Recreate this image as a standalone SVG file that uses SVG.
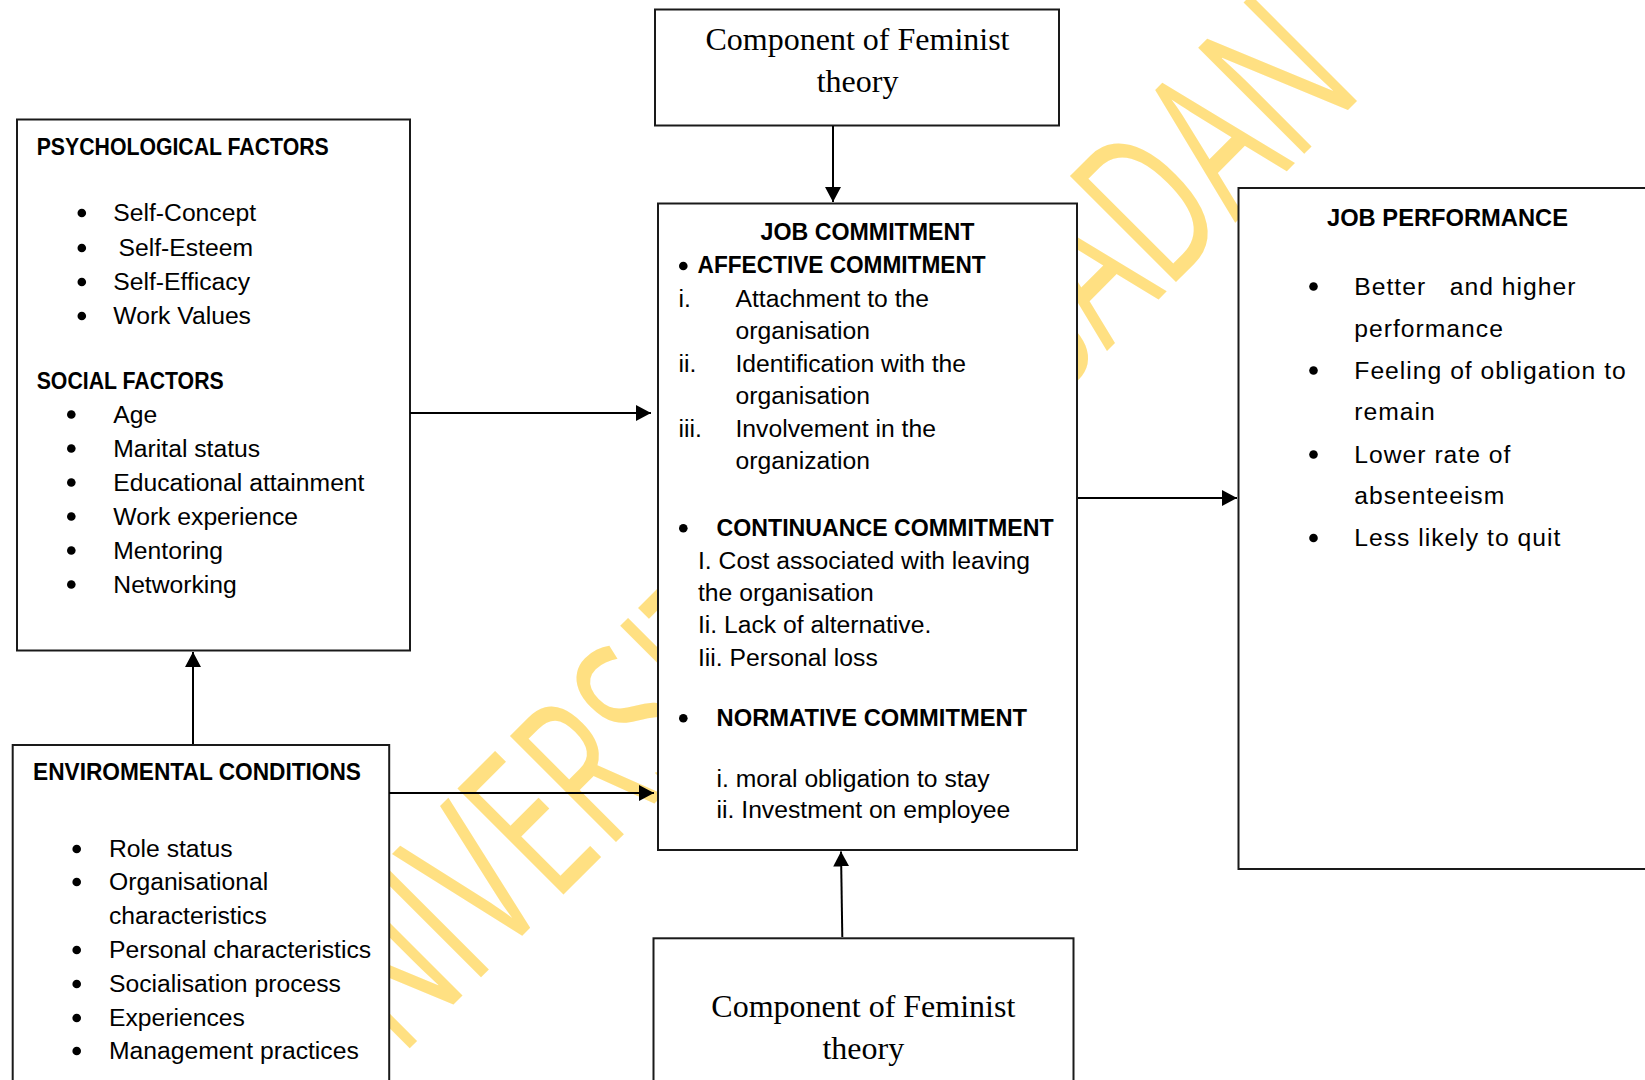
<svg xmlns="http://www.w3.org/2000/svg" width="1645" height="1080" viewBox="0 0 1645 1080">
<style>
.box{fill:#fff;stroke:#1a1a1a;stroke-width:2}
.t{font-family:"Liberation Sans",Arial,sans-serif;font-size:24.7px;fill:#000}
.b{font-weight:bold;font-size:24px}
.ser{font-family:"Liberation Serif","Times New Roman",serif;font-size:32px;fill:#000;text-anchor:middle}
.jp{letter-spacing:1px;white-space:pre}
.dot{fill:#000}
.wm{font-family:"Open Sans","Liberation Sans",sans-serif;font-weight:normal;font-size:210px;fill:#FFE082}
.conn{stroke:#000;stroke-width:2;fill:none}
</style>
<defs>
<marker id="ah" markerUnits="userSpaceOnUse" markerWidth="15" markerHeight="16" refX="15" refY="8" orient="auto">
<path d="M0,0 L15,8 L0,16 z" fill="#000"/>
</marker>
</defs>
<rect width="1645" height="1080" fill="#fff"/>
<text class="wm" x="-562" y="1031" transform="rotate(-45)" textLength="1463" lengthAdjust="spacingAndGlyphs">UNIVERSITY OF IBADAN</text>

<g id="feminist-top">
<rect class="box" x="655" y="9.5" width="404" height="116"/>
<text class="ser" x="857.5" y="50">Component of Feminist</text>
<text class="ser" x="857.5" y="92">theory</text>
</g>

<g id="psychological-social">
<rect class="box" x="17" y="119.5" width="393" height="531"/>
<text class="t b" x="36.7" y="155" textLength="292" lengthAdjust="spacingAndGlyphs">PSYCHOLOGICAL FACTORS</text>
<circle class="dot" cx="81.8" cy="213" r="4.3"/><text class="t" x="113.3" y="221">Self-Concept</text>
<circle class="dot" cx="81.8" cy="248" r="4.3"/><text class="t" x="118.5" y="256">Self-Esteem</text>
<circle class="dot" cx="81.8" cy="282" r="4.3"/><text class="t" x="113.3" y="290">Self-Efficacy</text>
<circle class="dot" cx="81.8" cy="316" r="4.3"/><text class="t" x="113.3" y="324">Work Values</text>
<text class="t b" x="36.7" y="388.5" textLength="187" lengthAdjust="spacingAndGlyphs">SOCIAL FACTORS</text>
<circle class="dot" cx="71.3" cy="414.5" r="4.3"/><text class="t" x="113.3" y="422.5">Age</text>
<circle class="dot" cx="71.3" cy="448.5" r="4.3"/><text class="t" x="113.3" y="456.5">Marital status</text>
<circle class="dot" cx="71.3" cy="482.5" r="4.3"/><text class="t" x="113.3" y="490.5">Educational attainment</text>
<circle class="dot" cx="71.3" cy="516.5" r="4.3"/><text class="t" x="113.3" y="524.5">Work experience</text>
<circle class="dot" cx="71.3" cy="550.5" r="4.3"/><text class="t" x="113.3" y="558.5">Mentoring</text>
<circle class="dot" cx="71.3" cy="584.5" r="4.3"/><text class="t" x="113.3" y="592.5">Networking</text>
</g>

<g id="environmental">
<rect class="box" x="12.7" y="745" width="376.5" height="345"/>
<text class="t b" x="33" y="780" textLength="328" lengthAdjust="spacingAndGlyphs">ENVIROMENTAL CONDITIONS</text>
<circle class="dot" cx="76.7" cy="849" r="4.3"/><text class="t" x="109" y="857">Role status</text>
<circle class="dot" cx="76.7" cy="882" r="4.3"/><text class="t" x="109" y="890">Organisational</text>
<text class="t" x="109" y="923.5">characteristics</text>
<circle class="dot" cx="76.7" cy="950" r="4.3"/><text class="t" x="109" y="958">Personal characteristics</text>
<circle class="dot" cx="76.7" cy="984" r="4.3"/><text class="t" x="109" y="992">Socialisation process</text>
<circle class="dot" cx="76.7" cy="1018" r="4.3"/><text class="t" x="109" y="1026">Experiences</text>
<circle class="dot" cx="76.7" cy="1051" r="4.3"/><text class="t" x="109" y="1059">Management practices</text>
</g>

<g id="job-commitment">
<rect class="box" x="658" y="203.5" width="419" height="646.5"/>
<text class="t b" x="760.5" y="240" textLength="214" lengthAdjust="spacingAndGlyphs">JOB COMMITMENT</text>
<circle class="dot" cx="683.3" cy="266" r="4.3"/>
<text class="t b" x="697.6" y="273.3" textLength="288" lengthAdjust="spacingAndGlyphs">AFFECTIVE COMMITMENT</text>
<text class="t" x="678.5" y="307">i.</text><text class="t" x="735.5" y="307">Attachment to the</text>
<text class="t" x="735.5" y="339">organisation</text>
<text class="t" x="678.5" y="372">ii.</text><text class="t" x="735.5" y="372">Identification with the</text>
<text class="t" x="735.5" y="404">organisation</text>
<text class="t" x="678.5" y="437">iii.</text><text class="t" x="735.5" y="437">Involvement in the</text>
<text class="t" x="735.5" y="469">organization</text>
<circle class="dot" cx="683.3" cy="528.3" r="4.3"/>
<text class="t b" x="716.6" y="535.7" textLength="337" lengthAdjust="spacingAndGlyphs">CONTINUANCE COMMITMENT</text>
<text class="t" x="698" y="568.5">I. Cost associated with leaving</text>
<text class="t" x="698" y="601">the organisation</text>
<text class="t" x="698" y="633">Ii. Lack of alternative.</text>
<text class="t" x="698" y="665.5">Iii. Personal loss</text>
<circle class="dot" cx="683.3" cy="718.3" r="4.3"/>
<text class="t b" x="716.6" y="726" textLength="310.5" lengthAdjust="spacingAndGlyphs">NORMATIVE COMMITMENT</text>
<text class="t" x="716.6" y="786.5">i. moral obligation to stay</text>
<text class="t" x="716.6" y="818">ii. Investment on employee</text>
</g>

<g id="feminist-bottom">
<rect class="box" x="653.5" y="938.3" width="420" height="150"/>
<text class="ser" x="863.3" y="1016.7">Component of Feminist</text>
<text class="ser" x="863.3" y="1059">theory</text>
</g>

<g id="job-performance">
<rect class="box" x="1238.5" y="188" width="420" height="681"/>
<text class="t b" x="1327" y="225.5" textLength="241" lengthAdjust="spacingAndGlyphs">JOB PERFORMANCE</text>
<circle class="dot" cx="1313.5" cy="286.5" r="4.3"/><text class="t jp" x="1354.3" y="294.5">Better   and higher</text>
<text class="t jp" x="1354.3" y="336.5">performance</text>
<circle class="dot" cx="1313.5" cy="370.5" r="4.3"/><text class="t jp" x="1354.3" y="378.5">Feeling of obligation to</text>
<text class="t jp" x="1354.3" y="419.5">remain</text>
<circle class="dot" cx="1313.5" cy="454.5" r="4.3"/><text class="t jp" x="1354.3" y="462.5">Lower rate of</text>
<text class="t jp" x="1354.3" y="504">absenteeism</text>
<circle class="dot" cx="1313.5" cy="538" r="4.3"/><text class="t jp" x="1354.3" y="546">Less likely to quit</text>
</g>

<g id="connectors">
<path class="conn" d="M833,126 L833,202" marker-end="url(#ah)"/>
<path class="conn" d="M410,413 L651,413" marker-end="url(#ah)"/>
<path class="conn" d="M193,744 L193,652" marker-end="url(#ah)"/>
<path class="conn" d="M389,793 L654,793" marker-end="url(#ah)"/>
<path class="conn" d="M842.3,937 L841,851.5" marker-end="url(#ah)"/>
<path class="conn" d="M1078,498 L1237,498" marker-end="url(#ah)"/>
</g>
</svg>
